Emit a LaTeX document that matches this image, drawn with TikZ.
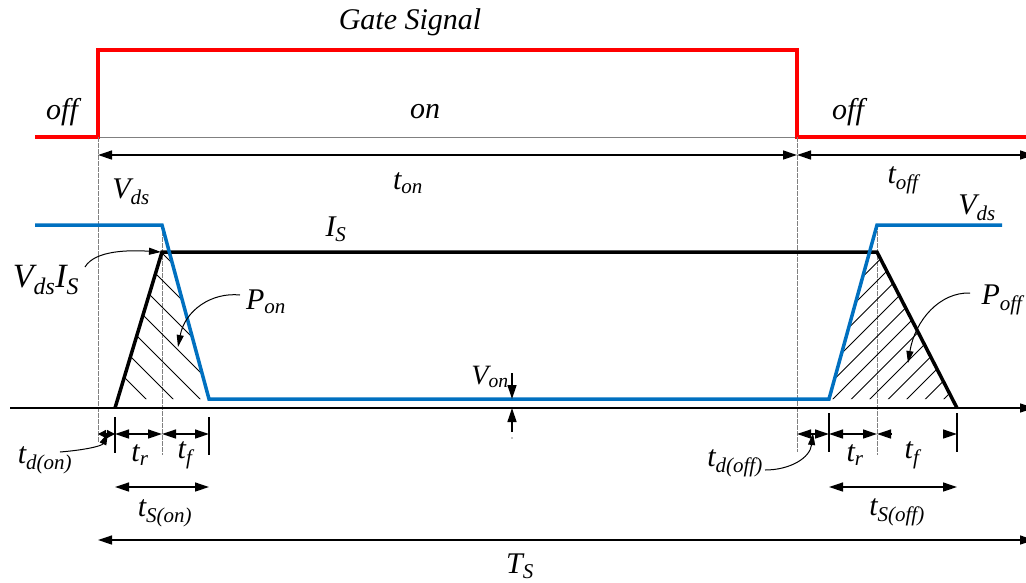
\documentclass[tikz,border=0pt]{standalone}
\usepackage{fontspec}
\setmainfont{Liberation Serif}
\newfontfamily\lsi{Liberation Serif}
\usetikzlibrary{arrows.meta}
\newcommand\sbs[1]{\textsubscript{#1}}
\definecolor{vblue}{RGB}{0,112,192}
\definecolor{gred}{RGB}{255,0,0}
\begin{document}
\begin{tikzpicture}[x=1pt,y=-1pt,
  lbl/.style={font=\fontsize{30}{32}\lsi\itshape, inner sep=0pt},
  biglbl/.style={font=\fontsize{34}{36}\lsi\itshape, inner sep=0pt},
  smlbl/.style={font=\fontsize{28}{30}\lsi\itshape, inner sep=0pt},
  gate/.style={draw=gred, line width=3.5pt},
  vds/.style={draw=vblue, line width=3.5pt},
  cur/.style={draw=black, line width=3.5pt},
  guide/.style={draw=gray, line width=0.8pt, dash pattern=on 5pt off 1pt},
  tickln/.style={draw=black, line width=1.3pt},
  dim/.style={draw=black, line width=1.3pt, {Triangle[length=14pt,width=9pt]}-{Triangle[length=14pt,width=9pt]}},
  sdim/.style={draw=black, line width=1.3pt, {Triangle[length=8pt,width=8pt]}-{Triangle[length=8pt,width=8pt]}},
  onetip/.style={draw=black, line width=1.3pt, -{Triangle[length=14pt,width=9pt]}},
  callout/.style={draw=black, line width=1pt, -{Triangle[length=12pt,width=7pt]}},
  hatch/.style={draw=black, line width=0.8pt},
]
\useasboundingbox (0,0) rectangle (1026,582);

% gate signal
\draw[gray, line width=1pt] (98,137) -- (797,137);
\draw[gate] (35,137) -- (98,137) -- (98,50) -- (797,50) -- (797,137) -- (1030,137);

% guide lines
\draw[guide] (98,137) -- (98,442);
\draw[guide] (797,137) -- (797,452);
\draw[guide] (162,225) -- (162,455);
\draw[guide] (877,225) -- (877,455);

% hatching
\begin{scope}
  \clip (117.7,399) -- (162,252) -- (169.3,252) -- (209,399) -- cycle;
  \foreach \c in {-280,-253,...,-80}
    \draw[hatch] (\c+200,200) -- (\c+420,420);
\end{scope}
\begin{scope}
  \clip (829,399) -- (869.6,252) -- (877,252) -- (952.4,399) -- cycle;
  \foreach \c in {1121,1139.5,...,1360}
    \draw[hatch] (\c-420,420) -- (\c-200,200);
\end{scope}

% axis
\draw[line width=1.5pt, -{Triangle[length=14pt,width=9pt]}] (10,408) -- (1034,408);

% current and voltage
\draw[cur] (115,408) -- (162,252) -- (877,252) -- (957,408);
\draw[vds] (35,225) -- (162,225) -- (209,399) -- (829,399) -- (877,225) -- (1002,225);

% ticks
\draw[tickln] (115,417) -- (115,453);
\draw[tickln] (209,417) -- (209,455);
\draw[tickln] (829,413) -- (829,452);
\draw[tickln] (957,413) -- (957,452);

% coordinates
\coordinate (a0) at (98,155);
\coordinate (a1) at (797,155);
\coordinate (a2) at (1034,155);
\coordinate (b0) at (98,434);
\coordinate (b1) at (115,434);
\coordinate (b2) at (162,434);
\coordinate (b3) at (209,434);
\coordinate (c0) at (797,434);
\coordinate (c1) at (829,434);
\coordinate (c2) at (877,434);
\coordinate (c3) at (957,434);
\coordinate (c2e) at (891,434);
\coordinate (c3e) at (943,434);
\coordinate (s0) at (115,487);
\coordinate (s1) at (209,487);
\coordinate (s2) at (829,487);
\coordinate (s3) at (957,487);
\coordinate (T0) at (98,540);
\coordinate (T1) at (1034,540);
\coordinate (von0) at (512,373);
\coordinate (von1) at (512,399);
\coordinate (von2) at (512,432);
\coordinate (von3) at (512,408);
\coordinate (pk) at (161,252);
\coordinate (ponp) at (178,347);
\coordinate (poffp) at (908,363);
\coordinate (tdonp) at (108,433);
\coordinate (tdoffp) at (813,433);

% dimension arrows
\draw[dim] (a0) -- (a1);
\draw[dim] (a1) -- (a2);
\draw[sdim] (b0) -- (b1);
\draw[dim] (b1) -- (b2);
\draw[dim] (b2) -- (b3);
\draw[dim] (c0) -- (c1);
\draw[dim] (c1) -- (c2);
\draw[onetip] (c2e) -- (c2);
\draw[onetip] (c3e) -- (c3);
\draw[dim] (s0) -- (s1);
\draw[dim] (s2) -- (s3);
\draw[dim] (T0) -- (T1);
\draw[onetip] (von0) -- (von1);
\draw[onetip] (von2) -- (von3);
\fill (512,438) circle (0.6pt);

% labels
\node[lbl] (gs) at (410,22) {Gate Signal};
\node[lbl] (off1) at (62,112) {off};
\node[lbl] (on) at (425,112) {on};
\node[lbl] (off2) at (848,112) {off};
\node[lbl] (ton) at (408,183) {t\sbs{on}};
\node[lbl] (toff) at (903,180) {t\sbs{off}};
\node[lbl, anchor=east] (tax1) at (1034,172) {t};
\node[lbl, anchor=east] (tax2) at (1034,430) {t};
\node[lbl] (vds1) at (131,192) {V\sbs{ds}};
\node[lbl] (vds2) at (977,208) {V\sbs{ds}};
\node[lbl] (is) at (336,229) {I\sbs{S}};
\node[biglbl] (vdsis) at (46,280) {V\sbs{ds}I\sbs{S}};
\node[lbl] (pon) at (266,302) {P\sbs{on}};
\node[lbl] (poff) at (1002,300) {P\sbs{off}};
\node[smlbl] (von) at (490,377) {V\sbs{on}};
\node[lbl] (tdon) at (45,460) {t\sbs{d(on)}};
\node[lbl] (tr1) at (140,455) {t\sbs{r}};
\node[lbl] (tf1) at (185,455) {t\sbs{f}};
\node[lbl] (tson) at (165,513) {t\sbs{S(on)}};
\node[lbl] (tdoff) at (735,463) {t\sbs{d(off)}};
\node[lbl] (tr2) at (855,455) {t\sbs{r}};
\node[lbl] (tf2) at (912,455) {t\sbs{f}};
\node[lbl] (tsoff) at (897,512) {t\sbs{S(off)}};
\node[lbl] (ts) at (520,566) {T\sbs{S}};

% callouts
\draw[callout] (85,267) .. controls (95,250) and (130,250) .. (pk);
\draw[callout] (240,295) .. controls (212,292) and (185,310) .. (ponp);
\draw[callout] (970,293) .. controls (940,292) and (915,320) .. (poffp);
\draw[callout] (60,452) .. controls (85,450) and (102,446) .. (tdonp);
\draw[callout] (765,470) .. controls (790,470) and (810,458) .. (tdoffp);
\end{tikzpicture}
\end{document}
